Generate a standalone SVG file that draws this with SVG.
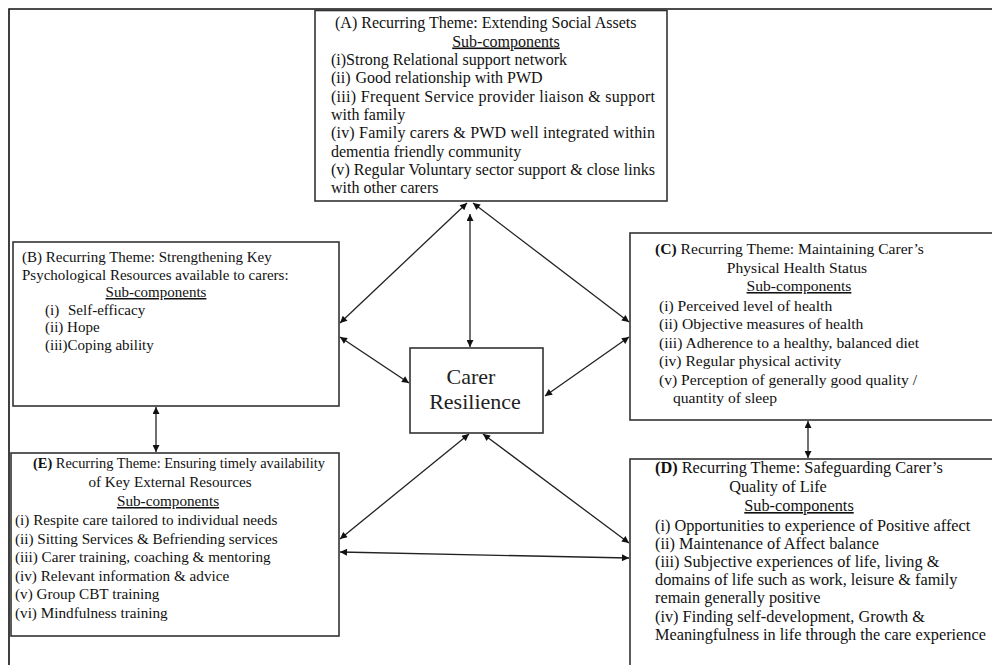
<svg xmlns="http://www.w3.org/2000/svg" width="992" height="665" viewBox="0 0 992 665">
<style>
text{font-family:"Liberation Serif","Times New Roman",serif;fill:#111;}
.box{fill:#fff;stroke:#333;stroke-width:1.6;}
.frame{stroke:#111;stroke-width:1.6;fill:none;}
.a{font-size:16px;}
.b{font-size:15px;}
.c{font-size:15.6px;}
.d{font-size:16.3px;}
.e{font-size:15.2px;}
.u{text-decoration:underline;}
.mid{text-anchor:middle;}
.bold{font-weight:bold;}
.cr{font-size:22px;text-anchor:middle;fill:#222;}
.con{stroke:#222;stroke-width:1.3;fill:none;marker-start:url(#ah);marker-end:url(#ah);}
</style>
<defs>
<marker id="ah" viewBox="0 0 10 10" refX="10" refY="5" markerWidth="9" markerHeight="7" markerUnits="userSpaceOnUse" orient="auto-start-reverse">
<path d="M0,0 L10,5 L0,10 z" fill="#111"/>
</marker>
</defs>
<rect width="992" height="665" fill="#fff"/>
<path class="frame" d="M9,665 V9 H992"/>

<g id="nodeA">
<rect class="box" x="315" y="10.5" width="352" height="190.5"/>
<text class="a" x="335" y="28">(A) Recurring Theme: Extending Social Assets</text>
<text class="a u mid" x="506" y="46.5">Sub-components</text>
<text class="a" x="331" y="65">(i)Strong Relational support network</text>
<text class="a" x="331" y="83">(ii)<tspan dx="5">Good relationship with PWD</tspan></text>
<text class="a" x="331" y="101.5" textLength="324" lengthAdjust="spacing">(iii) Frequent Service provider liaison &amp; support</text>
<text class="a" x="331" y="120">with family</text>
<text class="a" x="331" y="138" textLength="324" lengthAdjust="spacing">(iv) Family carers &amp; PWD well integrated within</text>
<text class="a" x="331" y="156.5">dementia friendly community</text>
<text class="a" x="331" y="175" textLength="324" lengthAdjust="spacing">(v) Regular Voluntary sector support &amp; close links</text>
<text class="a" x="331" y="193">with other carers</text>
</g>

<g id="nodeB">
<rect class="box" x="13" y="242" width="326" height="164"/>
<text class="b" x="22" y="262">(B) Recurring Theme: Strengthening Key</text>
<text class="b" x="22" y="279.5">Psychological Resources available to carers:</text>
<text class="b u mid" x="156" y="297">Sub-components</text>
<text class="b" x="45" y="314.5">(i)</text>
<text class="b" x="68" y="314.5">Self-efficacy</text>
<text class="b" x="45" y="332">(ii) Hope</text>
<text class="b" x="45" y="349.5">(iii)Coping ability</text>
</g>

<g id="nodeC">
<rect class="box" x="630" y="233" width="380" height="187"/>
<text class="c" x="655" y="254"><tspan class="bold">(C)</tspan> Recurring Theme: Maintaining Carer’s</text>
<text class="c mid" x="797" y="272.5">Physical Health Status</text>
<text class="c u mid" x="799" y="291">Sub-components</text>
<text class="c" x="659" y="310.5">(i) Perceived level of health</text>
<text class="c" x="659" y="329">(ii) Objective measures of health</text>
<text class="c" x="659" y="347.5">(iii) Adherence to a healthy, balanced diet</text>
<text class="c" x="659" y="366">(iv) Regular physical activity</text>
<text class="c" x="659" y="384.5">(v) Perception of generally good quality /</text>
<text class="c" x="673" y="403">quantity of sleep</text>
</g>

<g id="nodeD">
<rect class="box" x="630" y="459" width="380" height="240"/>
<text class="d" x="655" y="473"><tspan class="bold">(D)</tspan> Recurring Theme: Safeguarding Carer’s</text>
<text class="d mid" x="778" y="492">Quality of Life</text>
<text class="d u mid" x="799" y="511">Sub-components</text>
<text class="d" x="655" y="531">(i) Opportunities to experience of Positive affect</text>
<text class="d" x="655" y="549">(ii) Maintenance of Affect balance</text>
<text class="d" x="655" y="567">(iii) Subjective experiences of life, living &amp;</text>
<text class="d" x="655" y="585">domains of life such as work, leisure &amp; family</text>
<text class="d" x="655" y="603">remain generally positive</text>
<text class="d" x="655" y="622">(iv) Finding self-development, Growth &amp;</text>
<text class="d" x="655" y="640">Meaningfulness in life through the care experience</text>
</g>

<g id="nodeE">
<rect class="box" x="11" y="453" width="328" height="183"/>
<text class="e" x="33" y="468" textLength="292" lengthAdjust="spacingAndGlyphs"><tspan class="bold">(E)</tspan> Recurring Theme: Ensuring timely availability</text>
<text class="e mid" x="170" y="487">of Key External Resources</text>
<text class="e u mid" x="168" y="506">Sub-components</text>
<text class="e" x="15" y="525">(i) Respite care tailored to individual needs</text>
<text class="e" x="15" y="543.5">(ii) Sitting Services &amp; Befriending services</text>
<text class="e" x="15" y="562">(iii) Carer training, coaching &amp; mentoring</text>
<text class="e" x="15" y="580.5">(iv) Relevant information &amp; advice</text>
<text class="e" x="15" y="599">(v) Group CBT training</text>
<text class="e" x="15" y="617.5">(vi) Mindfulness training</text>
</g>

<g id="nodeCenter">
<rect class="box" x="410" y="348" width="133" height="85"/>
<text class="cr" x="471" y="384">Carer</text>
<text class="cr" x="475" y="409">Resilience</text>
</g>

<g id="connectors">
<line class="con" x1="467" y1="203" x2="340" y2="323"/>
<line class="con" x1="473" y1="203" x2="629" y2="322"/>
<line class="con" x1="470" y1="214" x2="470" y2="347"/>
<line class="con" x1="340" y1="337" x2="409" y2="383"/>
<line class="con" x1="629" y1="337" x2="545" y2="396"/>
<line class="con" x1="469" y1="434" x2="340" y2="539"/>
<line class="con" x1="483" y1="434" x2="629" y2="543"/>
<line class="con" x1="340" y1="552" x2="629" y2="558"/>
<line class="con" x1="156" y1="407" x2="156" y2="452"/>
<line class="con" x1="808" y1="421" x2="808" y2="458"/>
</g>
</svg>
